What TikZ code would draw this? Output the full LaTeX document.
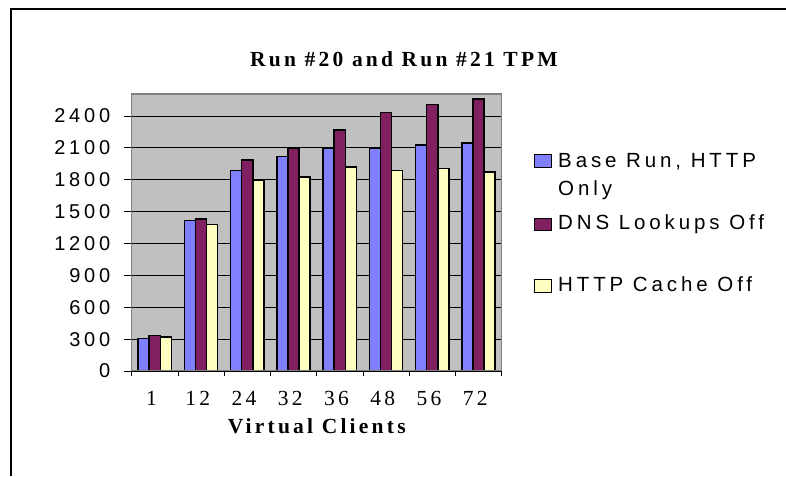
\documentclass[tikz,border=0pt]{standalone}
\usepackage{fontspec}
\setmainfont{Liberation Serif}
\newfontfamily\chartsans[LetterSpace=19]{Liberation Sans}
\newfontfamily\chartserif[LetterSpace=15]{Liberation Serif}

\definecolor{baserun}{HTML}{8080FF}
\definecolor{dnsoff}{HTML}{802060}
\definecolor{cacheoff}{HTML}{FFFFC0}
\definecolor{plotbg}{HTML}{C0C0C0}

\begin{document}
\begin{tikzpicture}[x=1pt,y=-1pt,
    bar/.style={draw=black,line width=1.5pt},
    ylab/.style={anchor=east,inner sep=0pt,font=\chartsans\fontsize{20}{24}\selectfont},
    xlab/.style={anchor=base,inner sep=0pt,font=\chartserif\fontsize{21.5}{24}\selectfont},
    key/.style={draw=black,line width=1.2pt,minimum width=17pt,minimum height=12.5pt,inner sep=0pt},
    keytext/.style={anchor=base west,inner sep=0pt,align=left,font=\chartsans\fontsize{20.5}{27.5}\selectfont}]
  \useasboundingbox (0,0) rectangle (786,476);

  % chart frame, only top and left edge show
  \draw[line width=2pt] (11,476) -- (11,9) -- (786,9);

  \node (title) [anchor=base,inner sep=0pt,font=\chartserif\bfseries\fontsize{21.5}{24}\selectfont]
    at (404,66.7) {Run \#20 and Run \#21 TPM};

  % plot area: one unit in x per client group, y in TPM
  \begin{scope}[shift={(131.7,371)},x=46.25pt,y=0.10625pt]
    \fill[plotbg] (0,0) rectangle (8,2607);
    \foreach \v in {300,600,...,2400}
      \draw[line width=0.8pt] (-0.17,\v) -- (8,\v);
    \foreach \v in {0,300,...,2400}
      \node[ylab] (y\v) at (-0.46,\v) {\v};

    \foreach \lab/\a/\b/\c [count=\i from 0] in
        {1/304/336/320, 12/1415/1430/1380, 24/1889/1986/1798, 32/2017/2099/1826,
         36/2099/2268/1920, 48/2100/2435/1889, 56/2127/2506/1904, 72/2146/2560/1873} {
      \draw[bar,fill=baserun] (\i+0.138,0) rectangle ++(0.24,\a);
      \draw[bar,fill=dnsoff] (\i+0.378,0) rectangle ++(0.24,\b);
      \draw[bar,fill=cacheoff] (\i+0.618,0) rectangle ++(0.24,\c);
      \node[xlab] (x\i) at (\i+0.43,-327) {\lab};
    }

    \draw[gray,line width=1.2pt] (0,0) rectangle (8,2607);
    \draw[line width=1pt] (-0.17,0) -- (8,0);
    \foreach \k in {0,...,8}
      \draw[line width=0.8pt] (\k,0) -- (\k,-45);

    \node (xtitle) [anchor=base,inner sep=0pt,font=\chartserif\bfseries\fontsize{21.5}{24}\selectfont]
      at (4,-586) {Virtual Clients};
  \end{scope}

  % legend
  \node[key,fill=baserun] (k1) at (543,161) {};
  \node[key,fill=dnsoff] (k2) at (543,224.5) {};
  \node[key,fill=cacheoff] (k3) at (543,286) {};
  \node[keytext] (t1) at (558,195) {Base Run, HTTP\\Only};
  \node[keytext] (t2) at (558,229.8) {DNS Lookups Off};
  \node[keytext] (t3) at (558,291.7) {HTTP Cache Off};
\end{tikzpicture}
\end{document}
